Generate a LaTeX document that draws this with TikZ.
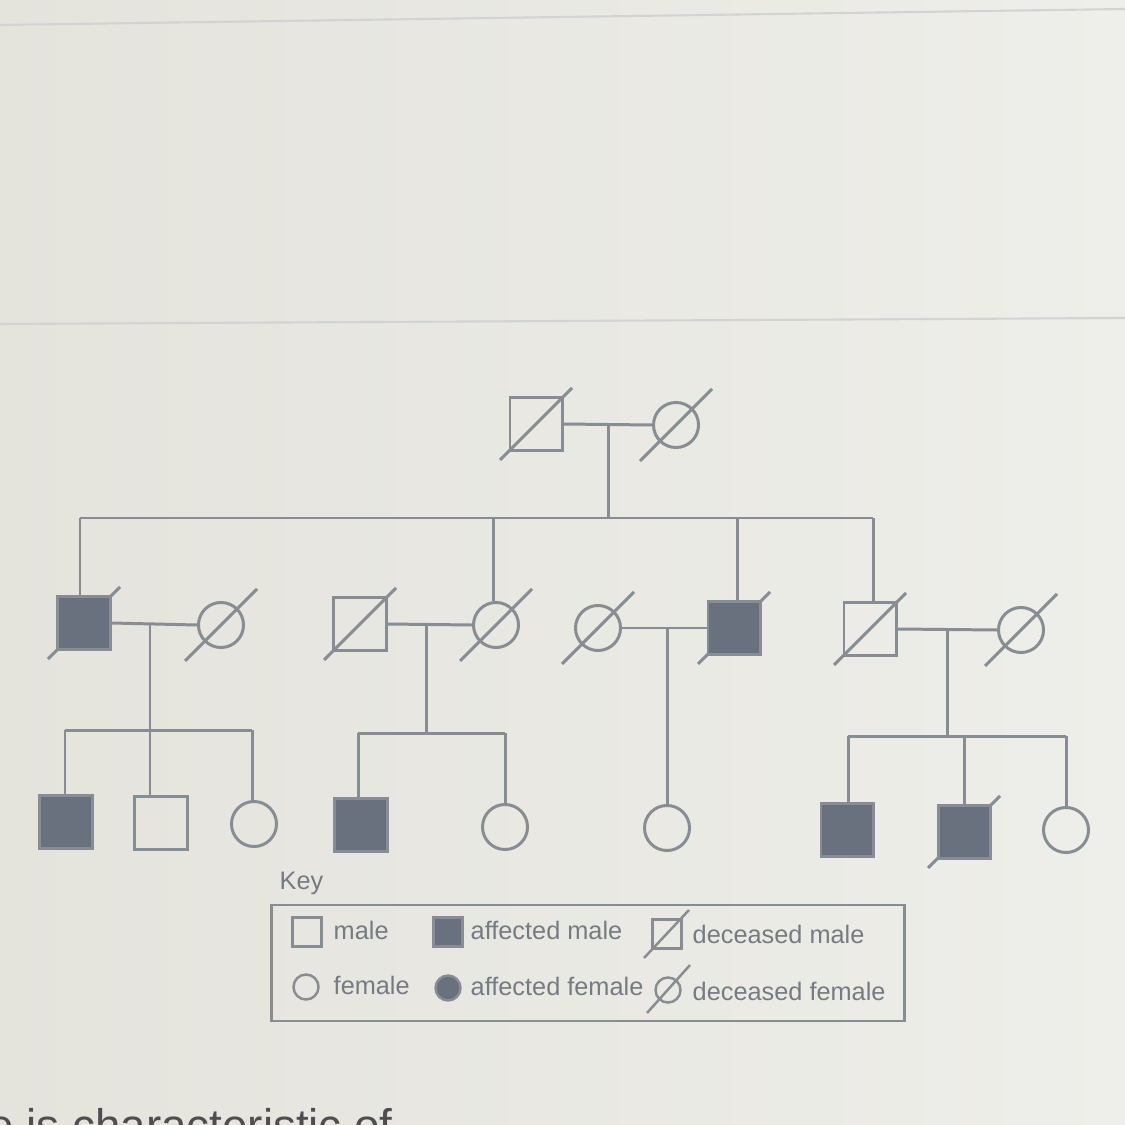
\documentclass[tikz,border=0pt]{standalone}
\usepackage{fontspec}
\setmainfont{Liberation Sans}
\usetikzlibrary{backgrounds}
\definecolor{paperl}{RGB}{228,227,220}
\definecolor{paperr}{RGB}{238,238,234}
\definecolor{pedline}{RGB}{136,141,147}
\definecolor{affect}{RGB}{106,113,126}
\definecolor{keytext}{RGB}{118,123,130}
\definecolor{faint}{RGB}{210,212,212}
\tikzset{
  male/.style={draw=pedline, line width=0.85pt, rectangle, minimum size=0.52cm, inner sep=0pt},
  female/.style={draw=pedline, line width=0.85pt, circle, minimum size=0.45cm, inner sep=0pt},
  kmale/.style={draw=pedline, line width=0.7pt, rectangle, minimum size=0.29cm, inner sep=0pt},
  kfemale/.style={draw=pedline, line width=0.7pt, circle, minimum size=0.25cm, inner sep=0pt},
  affected/.style={fill=affect},
  pedlink/.style={draw=pedline, line width=0.85pt},
  slash/.style={draw=pedline, line width=0.85pt},
  keylabel/.style={anchor=west, text=keytext, inner sep=0pt, font=\fontsize{7.2}{8}\selectfont}
}
\begin{document}
\begin{tikzpicture}[x=0.01cm, y=-0.01cm]
    \useasboundingbox (0,0) rectangle (1125,1125);
    \begin{pgfonlayer}{background}
    \shade[left color=paperl, right color=paperr] (0,0) rectangle (1125,1125);
    \draw[faint, line width=0.6pt] (0,25) -- (1125,9);
    \draw[faint, line width=0.6pt] (0,324) -- (1125,318);
    \end{pgfonlayer}
    % generation I
    \node[male] (gf) at (536,424) {};
    \node[female] (gm) at (676,425) {};
    \coordinate (m0) at (608,424);
    \coordinate (s0) at (608,518);
    \coordinate (s0l) at (80,518);
    \coordinate (s0r) at (873,518);
    \coordinate (s0b) at (493,518);
    \coordinate (s0c) at (737,518);
    \draw[pedlink] (gf.east) -- (gm.west);
    \draw[pedlink] (m0) -- (s0);
    \draw[pedlink] (s0l) -- (s0r);
    % generation II
    \node[male, affected] (a) at (84,623) {};
    \node[female] (b) at (221,625) {};
    \node[male] (c) at (360,624) {};
    \node[female] (d) at (496,625) {};
    \node[female] (e) at (598,628) {};
    \node[male, affected] (f) at (734,628) {};
    \node[male] (g) at (870,629) {};
    \node[female] (h) at (1021,630) {};
    \draw[pedlink] (s0l) -- (s0l |- a.north);
    \draw[pedlink] (s0b) -- (s0b |- d.north);
    \draw[pedlink] (s0c) -- (s0c |- f.north);
    \draw[pedlink] (s0r) -- (s0r |- g.north);
    \draw[pedlink] (a.east) -- (b.west);
    \draw[pedlink] (c.east) -- (d.west);
    \draw[pedlink] (e.east) -- (f.west);
    \draw[pedlink] (g.east) -- (h.west);
    \foreach \n in {gf,gm,b,c,d,e,g,h}
        \draw[slash] ([shift={(-36,36)}]\n.center) -- ([shift={(36,-36)}]\n.center);
    % generation III
    \node[male, affected] (k1) at (66,822) {};
    \node[male] (k2) at (161,823) {};
    \node[female] (k3) at (254,824) {};
    \node[male, affected] (k4) at (361,825) {};
    \node[female] (k5) at (505,827) {};
    \node[female] (k6) at (667,828) {};
    \node[male, affected] (k7) at (847,830) {};
    \node[male, affected] (k8) at (964,832) {};
    \node[female] (k9) at (1066,830) {};
    % slashes of the filled squares go behind the fill
    \begin{pgfonlayer}{background}
    \foreach \n in {a,f,k8}
        \draw[slash] ([shift={(-36,36)}]\n.center) -- ([shift={(36,-36)}]\n.center);
    \end{pgfonlayer}
    \coordinate (m1) at (150,624);
    \coordinate (s1) at (150,730);
    \coordinate (s1l) at (65,730);
    \coordinate (s1r) at (252,730);
    \draw[pedlink] (m1) -- (s1);
    \draw[pedlink] (s1l) -- (s1r);
    \draw[pedlink] (s1l) -- (s1l |- k1.north);
    \draw[pedlink] (s1) -- (s1 |- k2.north);
    \draw[pedlink] (s1r) -- (s1r |- k3.north);
    \coordinate (m2) at (426,624);
    \coordinate (s2) at (426,733);
    \coordinate (s2l) at (358,733);
    \coordinate (s2r) at (505,733);
    \draw[pedlink] (m2) -- (s2);
    \draw[pedlink] (s2l) -- (s2r);
    \draw[pedlink] (s2l) -- (s2l |- k4.north);
    \draw[pedlink] (s2r) -- (s2r |- k5.north);
    \coordinate (m3) at (667,628);
    \draw[pedlink] (m3) -- (k6.north);
    \coordinate (m4) at (947,629);
    \coordinate (s4) at (947,736);
    \coordinate (s4l) at (848,736);
    \coordinate (s4m) at (964,736);
    \coordinate (s4r) at (1066,736);
    \draw[pedlink] (m4) -- (s4);
    \draw[pedlink] (s4l) -- (s4r);
    \draw[pedlink] (s4l) -- (s4l |- k7.north);
    \draw[pedlink] (s4m) -- (k8.north);
    \draw[pedlink] (s4r) -- (k9.north);
    % key
    \node[keylabel, anchor=base west] (keyt) at (279,889) {Key};
    \node[draw=pedline, line width=0.8pt, minimum width=6.33cm, minimum height=1.16cm, inner sep=0pt] (keybox) at (588,963) {};
    \node[kmale] (km) at (307,932) {};
    \node[keylabel] (kmt) at (333,930) {male};
    \node[kmale, affected] (kam) at (448,932) {};
    \node[keylabel] (kamt) at (470,930) {affected male};
    \node[kmale] (kdm) at (667,934) {};
    \node[keylabel] (kdmt) at (692,934) {deceased male};
    \node[kfemale] (kf) at (306,987) {};
    \node[keylabel] (kft) at (333,985) {female};
    \node[kfemale, affected] (kaf) at (448,988) {};
    \node[keylabel] (kaft) at (470,986) {affected female};
    \node[kfemale] (kdf) at (668,990) {};
    \node[keylabel] (kdft) at (692,991) {deceased female};
    \draw[slash, line width=0.7pt] ([shift={(-23,24)}]kdm.center) -- ([shift={(22,-24)}]kdm.center);
    \draw[slash, line width=0.7pt] ([shift={(-21,23)}]kdf.center) -- ([shift={(22,-25)}]kdf.center);
    % cut-off text at the foot
    \begin{scope}
        \clip (0,0) rectangle (1125,1125);
        \node[anchor=base west, inner sep=0pt, text={rgb,255:red,78;green,78;blue,80}, font=\fontsize{13}{15}\selectfont] (foot) at (-12,1141) {e is characteristic of};
    \end{scope}
\end{tikzpicture}
\end{document}
